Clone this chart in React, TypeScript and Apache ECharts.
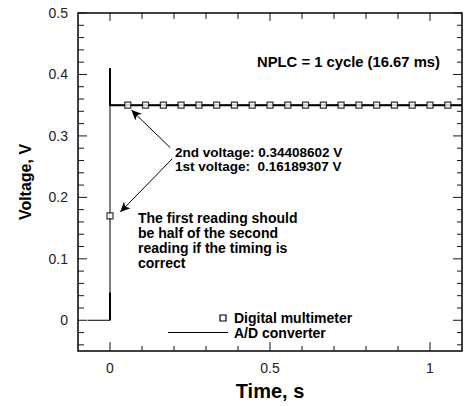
import React, { useEffect, useRef } from "react";
import * as echarts from "echarts";

// Digital multimeter readings (time in s, voltage in V)
const dmmTimes = [0, 0.0556, 0.1111, 0.1667, 0.2222, 0.2778, 0.3333, 0.3889, 0.4444, 0.5, 0.5556, 0.6111, 0.6667, 0.7222, 0.7778, 0.8333, 0.8889, 0.9444, 1.0, 1.0556];
const dmmVolts = [0.17, 0.35, 0.35, 0.35, 0.35, 0.35, 0.35, 0.35, 0.35, 0.35, 0.35, 0.35, 0.35, 0.35, 0.35, 0.35, 0.35, 0.35, 0.35, 0.35];

// A/D converter trace
const adTimes = [-0.07, 0, 0, 0, 0, 1.1];
const adVolts = [0, 0, 0.045, 0.41, 0.35, 0.35];
const adSpikeTimes = [0, 0, 1.1];
const adSpikeVolts = [0.41, 0.35, 0.35];
const adBaseTimes = [0, 0];
const adBaseVolts = [0, 0.045];

// Axis ticks
const yMajor = [0, 0.1, 0.2, 0.3, 0.4, 0.5];
const yMinor = [-0.04, -0.02, 0.02, 0.04, 0.06, 0.08, 0.12, 0.14, 0.16, 0.18, 0.22, 0.24, 0.26, 0.28, 0.32, 0.34, 0.36, 0.38, 0.42, 0.44, 0.46, 0.48];
const xMajor = [0, 0.5, 1];
const xMinor = [0.1, 0.2, 0.3, 0.4, 0.6, 0.7, 0.8, 0.9];

const X_MIN = -0.1;
const X_MAX = 1.1;
const Y_MIN = -0.05;
const Y_MAX = 0.5;

// Annotation arrows: [fromTime, fromVolt, toTime, toVolt]
const arrows = [
  [0.188, 0.281, 0.067, 0.342],
  [0.195, 0.263, 0.032, 0.176],
];

const FONT = "'Liberation Sans', Arial, Helvetica, sans-serif";
const TICK = "#151522";

const fmt = (v: number) => String(Math.round(v * 10) / 10);

function yTicks(values: number[], len: number, side: string) {
  return {
    type: "custom",
    data: values.map((v) => [0.5, v]),
    renderItem: (params: any, api: any) => {
      const p = api.coord([side === "L" ? X_MIN : X_MAX, api.value(1)]);
      const x2 = side === "L" ? p[0] + len : p[0] - len;
      return { type: "line", shape: { x1: p[0], y1: p[1], x2, y2: p[1] }, style: { stroke: TICK, lineWidth: 1 } };
    },
  };
}

function xTicks(values: number[], len: number, side: string) {
  return {
    type: "custom",
    data: values.map((v) => [v, 0.2]),
    renderItem: (params: any, api: any) => {
      const p = api.coord([api.value(0), side === "B" ? Y_MIN : Y_MAX]);
      const y2 = side === "B" ? p[1] - len : p[1] + len;
      return { type: "line", shape: { x1: p[0], y1: p[1], x2: p[0], y2 }, style: { stroke: TICK, lineWidth: 1 } };
    },
  };
}

export default function App() {
  const ref = useRef<HTMLDivElement>(null);
  useEffect(() => {
    if (!ref.current) return;
    const chart = echarts.init(ref.current, undefined, { renderer: "svg" });
    const zip = (a: number[], b: number[]) => a.map((t, i) => [t, b[i]]);

    chart.setOption({
      animation: false,
      grid: { left: 78, right: 2, top: 13, bottom: 53, show: true, borderColor: "#000", borderWidth: 1.5, backgroundColor: "transparent" },
      xAxis: {
        type: "value",
        min: X_MIN,
        max: X_MAX,
        name: "Time, s",
        nameLocation: "middle",
        nameGap: 30,
        nameTextStyle: { fontFamily: FONT, fontWeight: "bold", fontSize: 20, color: "#000" },
        axisLine: { show: false, onZero: false },
        axisTick: { show: false },
        axisLabel: { show: true, customValues: xMajor, formatter: fmt, fontFamily: FONT, fontSize: 14, color: "#222", margin: 10 },
        splitLine: { show: false },
      },
      yAxis: {
        type: "value",
        min: Y_MIN,
        max: Y_MAX,
        name: "Voltage, V",
        nameLocation: "middle",
        nameGap: 45,
        nameTextStyle: { fontFamily: FONT, fontWeight: "bold", fontSize: 16, color: "#000" },
        axisLine: { show: false, onZero: false },
        axisTick: { show: false },
        axisLabel: { show: true, customValues: yMajor, formatter: fmt, fontFamily: FONT, fontSize: 14, color: "#222", margin: 10 },
        splitLine: { show: false },
      },
      series: [
        yTicks(yMajor, 9, "L"),
        yTicks(yMinor, 6, "L"),
        yTicks(yMajor, 9, "R"),
        yTicks(yMinor, 5, "R"),
        xTicks(xMajor, 9, "B"),
        xTicks(xMinor, 5, "B"),
        xTicks(xMajor, 8, "T"),
        xTicks(xMinor, 6, "T"),
        {
          name: "A/D converter",
          type: "line",
          data: zip(adTimes, adVolts),
          symbol: "none",
          lineStyle: { color: "#000", width: 1 },
          markLine: {
            silent: true,
            symbol: ["none", "arrow"],
            symbolSize: [7, 10],
            label: { show: false },
            lineStyle: { color: "#000", width: 1, type: "solid" },
            data: arrows.map((a) => [{ coord: [a[0], a[1]] }, { coord: [a[2], a[3]] }]),
          },
        },
        {
          name: "A/D spike",
          type: "line",
          data: zip(adSpikeTimes, adSpikeVolts),
          symbol: "none",
          lineStyle: { color: "#000", width: 2 },
        },
        {
          name: "A/D base",
          type: "line",
          data: zip(adBaseTimes, adBaseVolts),
          symbol: "none",
          lineStyle: { color: "#000", width: 2 },
        },
        {
          name: "Digital multimeter",
          type: "scatter",
          data: zip(dmmTimes, dmmVolts),
          symbol: "rect",
          symbolSize: 6,
          itemStyle: { color: "#fff", borderColor: "#000", borderWidth: 1.2 },
          z: 5,
        },
      ],
      graphic: [
        { type: "text", x: 257, y: 62, style: { text: "NPLC = 1 cycle (16.67 ms)", font: `bold 14.8px ${FONT}`, fill: "#000", verticalAlign: "middle" } },
        {
          type: "text",
          x: 175,
          y: 145,
          style: {
            text: "2nd voltage: 0.34408602 V\n1st voltage:  0.16189307 V",
            font: `bold 13.5px ${FONT}`,
            lineHeight: 14,
            fill: "#000",
            verticalAlign: "top",
          },
        },
        {
          type: "text",
          x: 138,
          y: 210.5,
          style: {
            text: "The first reading should\nbe half of the second\nreading if the timing is\ncorrect",
            font: `bold 14px ${FONT}`,
            lineHeight: 15,
            fill: "#000",
            verticalAlign: "top",
          },
        },
        { type: "rect", shape: { x: 220, y: 315, width: 6, height: 6 }, style: { fill: "#fff", stroke: "#000", lineWidth: 1.2 } },
        { type: "line", shape: { x1: 168, y1: 332.5, x2: 228, y2: 332.5 }, style: { stroke: "#000", lineWidth: 1 } },
        { type: "text", x: 234, y: 318, style: { text: "Digital multimeter", font: `bold 14px ${FONT}`, fill: "#000", verticalAlign: "middle" } },
        { type: "text", x: 234, y: 332.5, style: { text: "A/D converter", font: `bold 14px ${FONT}`, fill: "#000", verticalAlign: "middle" } },
      ],
    });

    return () => chart.dispose();
  }, []);
  return <div ref={ref} style={{ width: 464, height: 406, position: "absolute", left: 0, top: 0 }} />;
}
